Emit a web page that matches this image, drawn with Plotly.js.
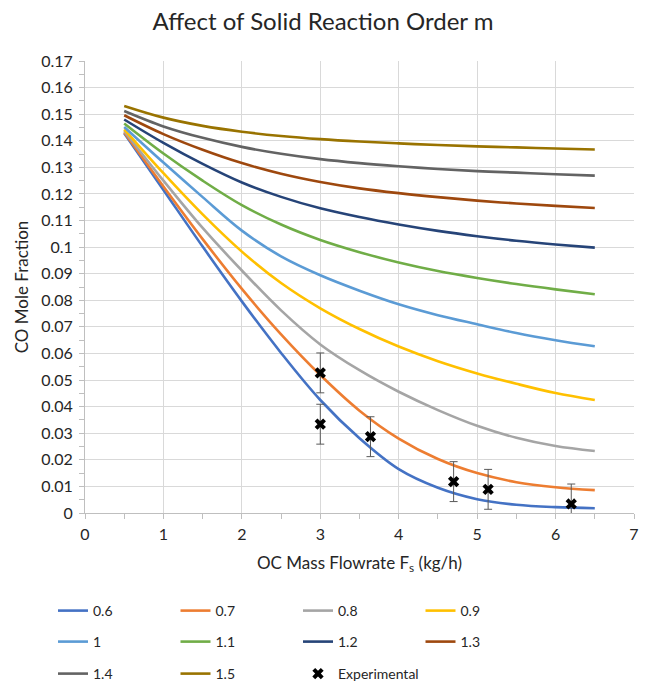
<!DOCTYPE html>
<html>
<head>
<meta charset="utf-8">
<script src="https://cdn.plot.ly/plotly-3.0.1.min.js"></script>
<style>html,body{margin:0;padding:0;background:#fff;}#chart{width:646px;height:684px;}</style>
</head>
<body>
<div id="chart"></div>
<script>
// ---- data ----
const flowrate = [0.5, 1, 1.5, 2, 2.5, 3, 3.5, 4, 4.5, 5, 5.5, 6, 6.5];
const seriesNames = ['0.6', '0.7', '0.8', '0.9', '1', '1.1', '1.2', '1.3', '1.4', '1.5'];
const m06 = [0.1428, 0.1215, 0.1002, 0.0796, 0.0602, 0.0425, 0.0281, 0.0165, 0.0095, 0.0052, 0.0031, 0.0022, 0.0018];
const m07 = [0.1432, 0.1228, 0.1030, 0.0843, 0.0672, 0.0519, 0.0385, 0.0280, 0.0203, 0.0150, 0.0116, 0.0097, 0.0086];
const m08 = [0.1437, 0.1250, 0.1072, 0.0912, 0.0762, 0.0634, 0.0537, 0.0456, 0.0387, 0.0328, 0.0283, 0.0252, 0.0233];
const m09 = [0.1443, 0.1278, 0.1123, 0.0983, 0.0865, 0.0770, 0.0692, 0.0626, 0.0571, 0.0525, 0.0486, 0.0451, 0.0425];
const m10 = [0.1452, 0.1318, 0.1188, 0.1062, 0.0965, 0.0894, 0.0836, 0.0785, 0.0744, 0.0710, 0.0677, 0.0650, 0.0627];
const m11 = [0.1465, 0.1352, 0.1250, 0.1158, 0.1085, 0.1027, 0.0981, 0.0942, 0.0910, 0.0884, 0.0861, 0.0841, 0.0823];
const m12 = [0.1480, 0.1392, 0.1313, 0.1243, 0.1189, 0.1146, 0.1113, 0.1085, 0.1061, 0.1041, 0.1024, 0.1010, 0.0998];
const m13 = [0.1496, 0.1425, 0.1366, 0.1316, 0.1276, 0.1245, 0.1221, 0.1203, 0.1188, 0.1175, 0.1164, 0.1155, 0.1147];
const m14 = [0.1512, 0.1454, 0.1411, 0.1377, 0.1351, 0.1331, 0.1316, 0.1304, 0.1294, 0.1286, 0.1280, 0.1274, 0.1269];
const m15 = [0.1531, 0.1487, 0.1456, 0.1434, 0.1418, 0.1406, 0.1397, 0.1390, 0.1384, 0.1379, 0.1375, 0.1371, 0.1367];

const expX = [3.00, 3.00, 3.64, 4.70, 5.14, 6.20];
const expY = [0.0527, 0.0334, 0.0287, 0.0118, 0.0089, 0.0034];
const expErr = [0.0075, 0.0075, 0.0075, 0.0075, 0.0075, 0.0075];

const yTickVals = [0, 0.01, 0.02, 0.03, 0.04, 0.05, 0.06, 0.07, 0.08, 0.09, 0.1, 0.11, 0.12, 0.13, 0.14, 0.15, 0.16, 0.17];
const yTickText = ['0', '0.01', '0.02', '0.03', '0.04', '0.05', '0.06', '0.07', '0.08', '0.09', '0.1', '0.11', '0.12', '0.13', '0.14', '0.15', '0.16', '0.17'];
const xTickVals = [0, 1, 2, 3, 4, 5, 6, 7];

// ---- styles ----
const seriesValues = [m06, m07, m08, m09, m10, m11, m12, m13, m14, m15];
const colors = ['#4472C4', '#ED7D31', '#A5A5A5', '#FFC000', '#5B9BD5', '#70AD47', '#264478', '#9E480E', '#636363', '#997300'];
const legendFor = ['legend', 'legend', 'legend', 'legend', 'legend2', 'legend2', 'legend2', 'legend2', 'legend3', 'legend3'];
const FONT = 'Lato, "Open Sans", sans-serif';
const TXT = '#262626';

const traces = seriesValues.map((vals, i) => ({
  type: 'scatter', mode: 'lines', name: seriesNames[i],
  x: flowrate, y: vals,
  line: {color: colors[i], width: 2.6, shape: 'spline', smoothing: 1},
  legend: legendFor[i]
}));
traces.push({
  type: 'scatter', mode: 'markers', name: 'Experimental',
  x: expX, y: expY,
  marker: {symbol: 'x', size: 10, color: '#000000', line: {width: 0}},
  error_y: {type: 'data', array: expErr, visible: true, color: '#595959', thickness: 1, width: 4},
  legend: 'legend3'
});

const legendBase = (yc) => ({
  orientation: 'h', xref: 'container', yref: 'container',
  x: 53 / 646, xanchor: 'left', y: 1 - yc / 684, yanchor: 'middle',
  entrywidth: 77.5, entrywidthmode: 'pixels',
  font: {family: FONT, size: 14, color: TXT},
  bgcolor: 'rgba(0,0,0,0)', borderwidth: 0, itemwidth: 30
});

const layout = {
  width: 646, height: 684,
  paper_bgcolor: '#ffffff', plot_bgcolor: '#ffffff',
  margin: {l: 85, r: 12, t: 61, b: 171},
  font: {family: FONT, color: TXT},
  title: {text: 'Affect of Solid Reaction Order m', font: {family: FONT, size: 24, color: TXT},
          xref: 'container', x: 0.5, xanchor: 'center', yref: 'container', y: 1 - 22 / 684, yanchor: 'middle'},
  xaxis: {
    range: [0, 7], tickvals: xTickVals, showgrid: true, gridcolor: '#d9d9d9', gridwidth: 1,
    zeroline: false, showline: true, linecolor: '#bfbfbf', linewidth: 1,
    ticks: 'outside', ticklen: 5, tickcolor: '#bfbfbf', ticklabelstandoff: 2,
    minor: {dtick: 0.5, ticks: 'outside', ticklen: 5, tickcolor: '#bfbfbf', showgrid: false},
    tickfont: {family: FONT, size: 16, color: TXT},
    title: {text: 'OC Mass Flowrate F<sub>s</sub> (kg/h)', font: {family: FONT, size: 17, color: TXT}, standoff: 14}
  },
  yaxis: {
    range: [0, 0.17], tickvals: yTickVals, ticktext: yTickText, showgrid: true, gridcolor: '#d9d9d9', gridwidth: 1,
    zeroline: false, showline: true, linecolor: '#bfbfbf', linewidth: 1,
    ticks: 'outside', ticklen: 5, tickcolor: '#bfbfbf', ticklabelstandoff: 3,
    minor: {dtick: 0.005, ticks: 'outside', ticklen: 5, tickcolor: '#bfbfbf', showgrid: false},
    tickfont: {family: FONT, size: 16, color: TXT},
    title: {text: 'CO Mole Fraction', font: {family: FONT, size: 17, color: TXT}, standoff: 8}
  },
  legend: legendBase(611),
  legend2: legendBase(642),
  legend3: legendBase(674),
  showlegend: true
};

Plotly.newPlot('chart', traces, layout, {displayModeBar: false, staticPlot: true});
</script>
</body>
</html>
